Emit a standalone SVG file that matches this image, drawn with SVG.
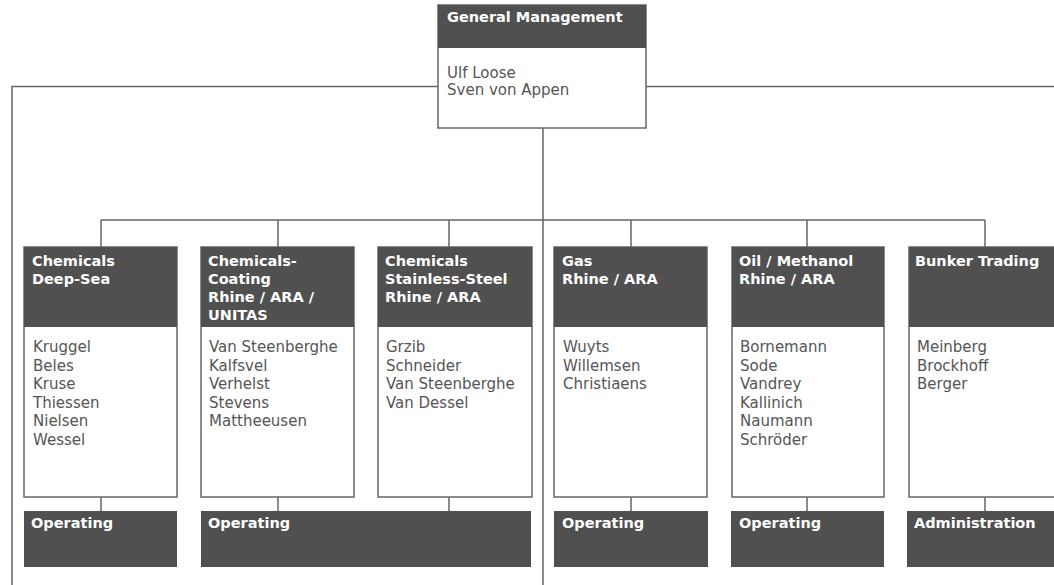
<svg xmlns="http://www.w3.org/2000/svg" width="1054" height="585" viewBox="0 0 1054 585">
<style>
.bg{fill:#ffffff}
.hd{fill:#505050}
.bd{fill:#ffffff;stroke:#666666;stroke-width:1.5}
.ln{fill:none;stroke:#666666;stroke-width:1.5}
.ht{font-family:"DejaVu Sans",sans-serif;font-weight:bold;font-size:14.5px;fill:#ffffff}
.tx{font-family:"DejaVu Sans",sans-serif;font-size:15px;fill:#555555}
</style>
<rect class="bg" x="0" y="0" width="1054" height="585"/>
<g id="connectors">
<path class="ln" d="M12,585 V86.5 H438 M646,86.5 H1054 M543,128 V585 M101,220 H985 M101,220 V247 M278,220 V247 M449,220 V247 M631,220 V247 M807,220 V247 M985,220 V247 M101,497 V511 M278,497 V511 M449,497 V511 M631,497 V511 M807,497 V511 M985,497 V511"/>
</g>
<g id="general-management">
<rect class="bd" x="438" y="5" width="208" height="123"/>
<rect class="hd" x="438" y="5" width="208" height="43"/>
<text class="ht" x="447" y="22">General Management</text>
<text class="tx" x="447" y="78">Ulf Loose</text>
<text class="tx" x="447" y="95">Sven von Appen</text>
</g>
<g id="chemicals-deep-sea">
<rect class="bd" x="24" y="247" width="153" height="250"/>
<rect class="hd" x="24" y="247" width="153" height="80"/>
<text class="ht" x="32" y="266">Chemicals</text>
<text class="ht" x="32" y="284">Deep-Sea</text>
<text class="tx" x="33" y="352">Kruggel</text>
<text class="tx" x="33" y="370.6">Beles</text>
<text class="tx" x="33" y="389.2">Kruse</text>
<text class="tx" x="33" y="407.8">Thiessen</text>
<text class="tx" x="33" y="426.4">Nielsen</text>
<text class="tx" x="33" y="445">Wessel</text>
</g>
<g id="chemicals-coating">
<rect class="bd" x="201" y="247" width="153" height="250"/>
<rect class="hd" x="201" y="247" width="153" height="80"/>
<text class="ht" x="208" y="266">Chemicals-</text>
<text class="ht" x="208" y="284">Coating</text>
<text class="ht" x="208" y="302">Rhine / ARA /</text>
<text class="ht" x="208" y="320">UNITAS</text>
<text class="tx" x="209" y="352">Van Steenberghe</text>
<text class="tx" x="209" y="370.6">Kalfsvel</text>
<text class="tx" x="209" y="389.2">Verhelst</text>
<text class="tx" x="209" y="407.8">Stevens</text>
<text class="tx" x="209" y="426.4">Mattheeusen</text>
</g>
<g id="chemicals-stainless-steel">
<rect class="bd" x="378" y="247" width="154" height="250"/>
<rect class="hd" x="378" y="247" width="154" height="80"/>
<text class="ht" x="385" y="266">Chemicals</text>
<text class="ht" x="385" y="284">Stainless-Steel</text>
<text class="ht" x="385" y="302">Rhine / ARA</text>
<text class="tx" x="386" y="352">Grzib</text>
<text class="tx" x="386" y="370.6">Schneider</text>
<text class="tx" x="386" y="389.2">Van Steenberghe</text>
<text class="tx" x="386" y="407.8">Van Dessel</text>
</g>
<g id="gas">
<rect class="bd" x="554" y="247" width="153" height="250"/>
<rect class="hd" x="554" y="247" width="153" height="80"/>
<text class="ht" x="562" y="266">Gas</text>
<text class="ht" x="562" y="284">Rhine / ARA</text>
<text class="tx" x="563" y="352">Wuyts</text>
<text class="tx" x="563" y="370.6">Willemsen</text>
<text class="tx" x="563" y="389.2">Christiaens</text>
</g>
<g id="oil-methanol">
<rect class="bd" x="732" y="247" width="152" height="250"/>
<rect class="hd" x="732" y="247" width="152" height="80"/>
<text class="ht" x="739" y="266">Oil / Methanol</text>
<text class="ht" x="739" y="284">Rhine / ARA</text>
<text class="tx" x="740" y="352">Bornemann</text>
<text class="tx" x="740" y="370.6">Sode</text>
<text class="tx" x="740" y="389.2">Vandrey</text>
<text class="tx" x="740" y="407.8">Kallinich</text>
<text class="tx" x="740" y="426.4">Naumann</text>
<text class="tx" x="740" y="445">Schröder</text>
</g>
<g id="bunker-trading">
<rect class="bd" x="909" y="247" width="160" height="250"/>
<rect class="hd" x="909" y="247" width="160" height="80"/>
<text class="ht" x="915" y="266">Bunker Trading</text>
<text class="tx" x="917" y="352">Meinberg</text>
<text class="tx" x="917" y="370.6">Brockhoff</text>
<text class="tx" x="917" y="389.2">Berger</text>
</g>
<g id="operating-1">
<rect class="hd" x="24" y="511" width="153" height="56"/>
<text class="ht" x="31" y="528">Operating</text>
</g>
<g id="operating-2">
<rect class="hd" x="201" y="511" width="330" height="56"/>
<text class="ht" x="208" y="528">Operating</text>
</g>
<g id="operating-3">
<rect class="hd" x="554" y="511" width="154" height="56"/>
<text class="ht" x="562" y="528">Operating</text>
</g>
<g id="operating-4">
<rect class="hd" x="731" y="511" width="153" height="56"/>
<text class="ht" x="739" y="528">Operating</text>
</g>
<g id="administration">
<rect class="hd" x="907" y="511" width="160" height="56"/>
<text class="ht" x="914" y="528">Administration</text>
</g>
</svg>
